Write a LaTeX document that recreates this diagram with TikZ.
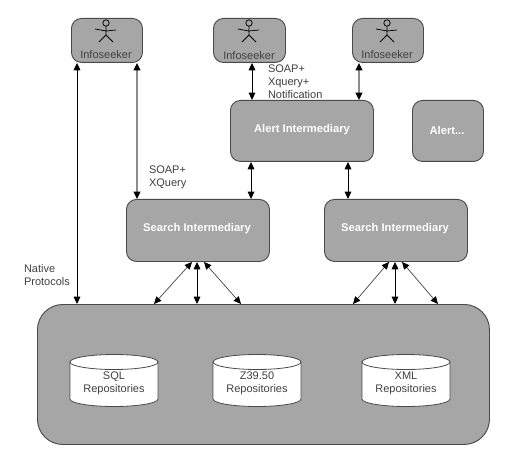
\documentclass[tikz,border=0pt]{standalone}
\usepackage{fontspec}
\setmainfont{Liberation Sans}
\usetikzlibrary{arrows.meta}
\definecolor{boxgray}{HTML}{A6A6A6}
\definecolor{edgegray}{HTML}{4A4A4A}
\definecolor{softline}{HTML}{8C8C8C}
\newcommand{\pxfont}{\fontsize{8.25pt}{9.75pt}\selectfont}
\newcommand{\pxbold}{\fontsize{8.4pt}{9.75pt}\selectfont\bfseries}
\newcommand{\repocyl}[3]{%
  % #1 left x, #2 node name, #3 first text line
  \path[fill=white,draw=edgegray,line width=.6pt]
    (#1,362) arc[start angle=180,end angle=360,x radius=44,y radius=7.5]
    -- ++(0,37) arc[start angle=0,end angle=180,x radius=44,y radius=7.5] -- cycle;
  \draw[edgegray,line width=.6pt] (#1,362) arc[start angle=180,end angle=0,x radius=44,y radius=7.5];
  \node[plaintext,align=center,font=\pxfont] (#2) at (#1+44,383) {#3\\Repositories};
}
\tikzset{
  x=0.75pt,y=-0.75pt,
  roundbox/.style={draw=edgegray,fill=boxgray,line width=.7pt,rounded corners=7.5pt,inner sep=0pt,
    anchor=north west},
  plaintext/.style={inner sep=0pt,outer sep=0pt,font=\pxfont,text=black!75},
  whitelabel/.style={inner sep=0pt,font=\pxbold,text=white},
  both/.style={{Triangle[width=5pt,length=5.5pt,color=black]}-{Triangle[width=5pt,length=5.5pt,color=black]}},
  hardline/.style={both,black,line width=.75pt},
  softarrow/.style={both,softline,line width=1.1pt},
  thinarrow/.style={both,black!70,line width=.55pt},
  actorfig/.pic={
    \draw[black,line width=.55pt] (0,3) circle[radius=3.2];
    \draw[black,line width=.55pt] (0,6) -- (0,15) (-11,9) -- (0,11) -- (10,10) (-7,22) -- (0,15) -- (7,22);
  }
}
\begin{document}
\begin{tikzpicture}
\useasboundingbox (0,0) rectangle (516,466);
\fill[white] (0,0) rectangle (516,466);

\node[roundbox,minimum width=53.25pt,minimum height=33pt] (is1) at (71,18) {};
\node[roundbox,minimum width=54pt,minimum height=33pt] (is2) at (213,18) {};
\node[roundbox,minimum width=53.25pt,minimum height=33pt] (is3) at (352,18) {};
\pic at (106,20) {actorfig};
\pic at (249,20) {actorfig};
\pic at (387,20) {actorfig};
\node[plaintext] (is1t) at (106,55) {Infoseeker};
\node[plaintext] (is2t) at (249,56) {Infoseeker};
\node[plaintext] (is3t) at (387,55) {Infoseeker};

\node[roundbox,minimum width=107.25pt,minimum height=45.75pt] (alert) at (230,100) {};
\node[whitelabel] (alertt) at (302,130) {Alert Intermediary};
\node[roundbox,minimum width=53.25pt,minimum height=45.75pt] (alert2) at (412,100) {};
\node[whitelabel] (alert2t) at (447,130) {Alert...};

\node[roundbox,minimum width=107.25pt,minimum height=46.5pt] (search1) at (126,199) {};
\node[whitelabel] (search1t) at (197,229) {Search Intermediary};
\node[roundbox,minimum width=107.25pt,minimum height=46.5pt] (search2) at (324,199) {};
\node[whitelabel] (search2t) at (395,229) {Search Intermediary};

\node[roundbox,rounded corners=19pt,minimum width=339pt,minimum height=105pt] (store) at (37,304) {};

\repocyl{70}{sql}{SQL}
\repocyl{213}{zdb}{Z39.50}
\repocyl{362}{xml}{XML}

\draw[hardline] (77,0 |- is1.south) -- (77,0 |- store.north);
\draw[softarrow] (137,0 |- is1.south) -- (137,0 |- search1.north);
\draw[hardline] (252,0 |- is2.south) -- (252,0 |- alert.north);
\draw[softarrow] (359,0 |- is3.south) -- (359,0 |- alert.north);
\draw[hardline] (251,0 |- alert.south) -- (251,0 |- search1.north);
\draw[hardline] (348,0 |- alert.south) -- (348,0 |- search2.north);

\draw[thinarrow] (192,0 |- search1.south) -- (154,0 |- store.north);
\draw[hardline] (197,0 |- search1.south) -- (197,0 |- store.north);
\draw[thinarrow] (204,0 |- search1.south) -- (241,0 |- store.north);
\draw[thinarrow] (389,0 |- search2.south) -- (353,0 |- store.north);
\draw[hardline] (395,0 |- search2.south) -- (395,0 |- store.north);
\draw[thinarrow] (402,0 |- search2.south) -- (438,0 |- store.north);

\node[plaintext,anchor=north west,align=left] (soapq) at (149,166) {SOAP+\\XQuery};
\node[plaintext,anchor=north west,align=left] (soapn) at (268,65) {SOAP+\\Xquery+\\Notification};
\node[plaintext,anchor=north west,align=left] (native) at (24,265) {Native\\Protocols};
\end{tikzpicture}
\end{document}
